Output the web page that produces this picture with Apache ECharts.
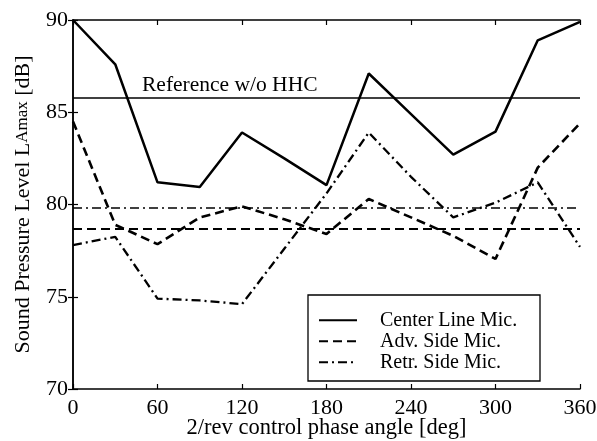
<!DOCTYPE html>
<html>
<head>
<meta charset="utf-8">
<script src="https://cdn.jsdelivr.net/npm/echarts@6/dist/echarts.min.js"></script>
<style>html,body{margin:0;padding:0;background:#fff}#c{width:597px;height:441px}</style>
</head>
<body>
<div id="c"></div>
<script>
const phaseAngles = [0, 30, 60, 90, 120, 150, 180, 210, 240, 270, 300, 330, 360];
const centerLine = [90.0, 87.6, 81.2, 80.95, 83.9, 82.5, 81.05, 87.1, 84.9, 82.7, 83.95, 88.9, 89.9];
const advSide    = [84.5, 78.9, 77.85, 79.3, 79.9, 79.2, 78.4, 80.3, 79.3, 78.3, 77.05, 82.0, 84.4];
const retrSide   = [77.8, 78.25, 74.9, 74.8, 74.6, 77.6, 80.6, 83.9, 81.5, 79.3, 80.1, 81.2, 77.7];
const refCenter = 85.8;
const refAdv = 78.7;
const refRetr = 79.8;
const seriesNames = ['Center Line Mic.', 'Adv. Side Mic.', 'Retr. Side Mic.'];

const FONT = 'Liberation Serif';
const pair = (arr) => phaseAngles.map((x, i) => [x, arr[i]]);
const dashDot = [9, 4, 2, 4];

const chart = echarts.init(document.getElementById('c'), null, {renderer: 'canvas'});
const baseX = {type: 'value', min: 0, max: 360, interval: 60, splitLine: {show: false},
  axisLine: {show: true, lineStyle: {color: '#000', width: 1.5}},
  axisTick: {show: true, inside: true, length: 5, lineStyle: {color: '#000', width: 1.2}}};
const baseY = {type: 'value', min: 70, max: 90, interval: 5, splitLine: {show: false},
  axisLine: {show: true, lineStyle: {color: '#000', width: 1.5}},
  axisTick: {show: true, inside: true, length: 5, lineStyle: {color: '#000', width: 1.2}}};

chart.setOption({
  animation: false,
  backgroundColor: '#fff',
  grid: {left: 73, right: 17, top: 20, bottom: 52, containLabel: false, outerBoundsMode: 'none'},
  xAxis: [
    Object.assign({}, baseX, {position: 'bottom',
      name: '2/rev control phase angle [deg]', nameLocation: 'middle', nameGap: 28,
      nameMoveOverlap: false,
      nameTextStyle: {fontFamily: FONT, fontSize: 22.5, color: '#000'},
      axisLabel: {fontFamily: FONT, fontSize: 22, color: '#000', margin: 8}}),
    Object.assign({}, baseX, {position: 'top', axisLabel: {show: false}})
  ],
  yAxis: [
    Object.assign({}, baseY, {position: 'left',
      name: '{a|Sound Pressure Level L}{b|Amax}{a| [dB]}', nameLocation: 'middle', nameGap: 39,
      nameRotate: 90, nameMoveOverlap: false,
      nameTextStyle: {color: '#000',
        rich: {a: {fontFamily: FONT, fontSize: 22, color: '#000'},
               b: {fontFamily: FONT, fontSize: 17, color: '#000'}}},
      axisLabel: {fontFamily: FONT, fontSize: 22, color: '#000', margin: 5}}),
    Object.assign({}, baseY, {position: 'right', axisLabel: {show: false}})
  ],
  legend: {
    data: seriesNames, orient: 'vertical', left: 318, top: 310,
    itemWidth: 38, itemHeight: 14, itemGap: 0.5, padding: 0,
    itemStyle: {opacity: 0},
    textStyle: {fontFamily: FONT, fontSize: 20, color: '#000', lineHeight: 20.5, padding: [0, 0, 0, 18]}
  },
  graphic: [{type: 'rect', shape: {x: 308, y: 295, width: 232, height: 86}, z: 3,
    style: {fill: '#fff', stroke: '#000', lineWidth: 1.3}}],
  series: [
    {name: seriesNames[0], type: 'line', data: pair(centerLine), symbol: 'none', legendIcon: 'none',
      lineStyle: {color: '#000', width: 2.5, type: 'solid'}, itemStyle: {color: '#000'},
      markLine: {silent: true, symbol: 'none', animation: false,
        lineStyle: {color: '#000', width: 1.5, type: 'solid'},
        label: {show: true, position: 'insideStartTop', formatter: 'Reference w/o HHC',
          fontFamily: FONT, fontSize: 21.5, color: '#000', distance: 1, padding: [0, 0, 0, 68]},
        data: [{yAxis: refCenter}]}},
    {name: seriesNames[1], type: 'line', data: pair(advSide), symbol: 'none', legendIcon: 'none',
      lineStyle: {color: '#000', width: 2.6, type: [9, 5]}, itemStyle: {color: '#000'},
      markLine: {silent: true, symbol: 'none', animation: false,
        lineStyle: {color: '#000', width: 2, type: [9, 5]}, label: {show: false},
        data: [{yAxis: refAdv}]}},
    {name: seriesNames[2], type: 'line', data: pair(retrSide), symbol: 'none', legendIcon: 'none',
      lineStyle: {color: '#000', width: 2.3, type: dashDot}, itemStyle: {color: '#000'},
      markLine: {silent: true, symbol: 'none', animation: false,
        lineStyle: {color: '#000', width: 1.5, type: dashDot}, label: {show: false},
        data: [{yAxis: refRetr}]}}
  ]
});
</script>
</body>
</html>
